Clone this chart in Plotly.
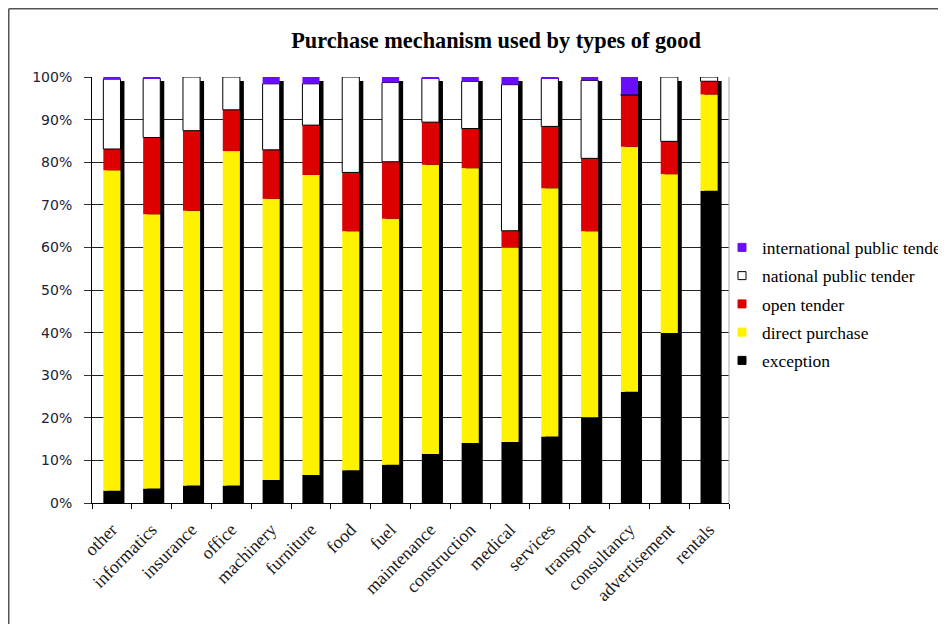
import numpy as np
import plotly.graph_objects as go

categories = ["other", "informatics", "insurance", "office", "machinery", "furniture",
              "food", "fuel", "maintenance", "construction", "medical", "services",
              "transport", "consultancy", "advertisement", "rentals"]

exception = [2.9, 3.4, 4.1, 4.1, 5.4, 6.6, 7.7, 9.0, 11.5, 14.1, 14.3, 15.6, 20.1, 26.1, 39.9, 73.3]
direct_purchase = [75.2, 64.4, 64.5, 78.5, 66.0, 70.4, 56.1, 57.7, 67.9, 64.5, 45.7, 58.3, 43.7, 57.5, 37.3, 22.6]
open_tender = [5.0, 18.0, 18.8, 9.7, 11.5, 11.7, 13.8, 13.4, 10.0, 9.3, 3.9, 14.5, 17.1, 12.1, 7.7, 3.1]
national_public_tender = [16.4, 13.9, 12.6, 7.7, 15.5, 9.7, 22.4, 18.6, 10.3, 11.1, 34.3, 11.3, 18.3, 0.2, 15.1, 1.0]
international_public_tender = [0.5, 0.3, 0.0, 0.0, 1.6, 1.6, 0.0, 1.3, 0.3, 1.0, 1.8, 0.3, 0.8, 4.1, 0.0, 0.0]

series = [
    ("exception", exception, "#000000", None),
    ("direct purchase", direct_purchase, "#FFF200", None),
    ("open tender", open_tender, "#DD0000", None),
    ("national public tender", national_public_tender, "#FFFFFF", "#000000"),
    ("international public tender", international_public_tender, "#6A0DFF", None),
]

BAR_W = 0.43
SHADOW_DX = 0.1
SHADOW_DY = 0.95

# figure geometry (page has an 8px body margin)
W, H = 938, 616
L, T, PW, PH = 84, 69, 637, 426
R, B = W - L - PW, H - T - PH

fig = go.Figure()

totals = np.sum([np.array(s[1]) for s in series], axis=0)
# drop shadow
fig.add_trace(go.Bar(x=categories, y=totals, base=-SHADOW_DY, width=BAR_W,
                     offset=-BAR_W / 2 + SHADOW_DX,
                     marker=dict(color="#000000", line=dict(width=0)),
                     showlegend=False, hoverinfo="skip"))

cum = np.zeros(len(categories))
for name, vals, color, lc in series:
    v = np.array(vals)
    fig.add_trace(go.Bar(x=categories, y=v, base=cum.copy(), width=BAR_W,
                         offset=-BAR_W / 2, name=name,
                         marker=dict(color=color,
                                     line=dict(color=lc or color, width=1 if lc else 0)),
                         showlegend=False))
    cum = cum + v

# legend entries
for i, (name, vals, color, lc) in enumerate(reversed(series)):
    fig.add_trace(go.Scatter(x=[None], y=[None], mode="markers", name=name,
                             legendgroup=str(i),
                             marker=dict(symbol="square", size=8, color=color,
                                         line=dict(color=lc or color, width=1))))

fig.update_layout(
    width=W, height=H,
    margin=dict(l=L, r=R, t=T, b=B, autoexpand=False),
    paper_bgcolor="white", plot_bgcolor="white",
    barmode="overlay",
    title=dict(text="<b>Purchase mechanism used by types of good</b>",
               x=488 / W, xanchor="center", y=1 - 32 / H, yanchor="middle",
               font=dict(family="Liberation Serif", size=22.3, color="#000000")),
    showlegend=True,
    legend=dict(x=(714 - L) / PW, xanchor="left", y=(T + PH - 296) / PH, yanchor="middle",
                traceorder="grouped", tracegroupgap=2.5,
                font=dict(family="Liberation Serif", size=17.5, color="#000000"),
                bgcolor="rgba(0,0,0,0)", itemwidth=30),
    xaxis=dict(type="category", tickangle=-45, tickson="boundaries",
               ticks="outside", ticklen=5, tickcolor="#000000",
               showline=True, linecolor="#000000", linewidth=1,
               showgrid=False, ticklabelstandoff=8,
               tickfont=dict(family="Liberation Serif", size=18, color="#1a1a1a")),
    yaxis=dict(range=[0, 100], dtick=10, ticksuffix="%",
               ticks="outside", ticklen=7, tickcolor="#333333",
               showline=True, linecolor="#000000", linewidth=1,
               showgrid=True, gridcolor="#222222", gridwidth=1,
               ticklabelstandoff=9,
               tickfont=dict(family="DejaVu Sans", size=14, color="#222233")),
    shapes=[
        dict(type="line", xref="paper", yref="paper", x0=1, x1=1, y0=0, y1=1,
             line=dict(color="#AAAAAA", width=1)),
        dict(type="line", xref="paper", yref="paper", x0=(0.75 - L) / PW, x1=(0.75 - L) / PW,
             y0=(T + PH - 0.75) / PH, y1=(T + PH - H - 10) / PH,
             line=dict(color="#555555", width=1.5)),
        dict(type="line", xref="paper", yref="paper", x0=(0.75 - L) / PW, x1=(W - L) / PW,
             y0=(T + PH - 0.75) / PH, y1=(T + PH - 0.75) / PH,
             line=dict(color="#555555", width=1.5)),
    ],
)

fig.write_html("out.html")
